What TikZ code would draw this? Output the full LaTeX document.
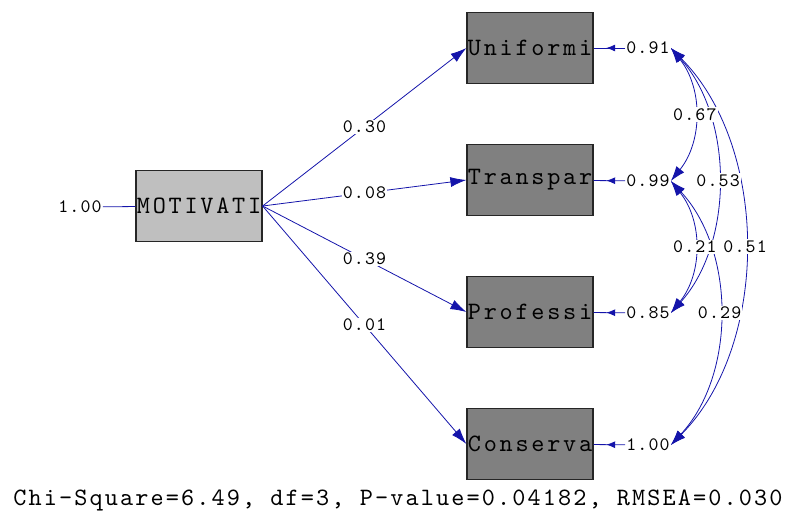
\documentclass[tikz,border=0pt]{standalone}
\usepackage{fontspec}
\newfontfamily\boxtt{lmmono10-regular.otf}[LetterSpace=11]
\newfontfamily\numtt{lmmono10-regular.otf}[LetterSpace=6]
\newfontfamily\fittt{lmmono10-regular.otf}[LetterSpace=8.5]
\usetikzlibrary{arrows.meta,decorations.markings}
\definecolor{pathblue}{RGB}{20,20,170}
\newcommand{\boxfont}{\boxtt\fontsize{25}{25}\selectfont}
\newcommand{\numfont}{\numtt\fontsize{19}{19}\selectfont}
\newcommand{\fitfont}{\fittt\fontsize{25}{25}\selectfont}
\begin{document}
\begin{tikzpicture}[x=1pt,y=-1pt,
  varbox/.style={draw=black!85, line width=1.2pt, minimum width=126pt, minimum height=71pt, inner sep=0pt, font=\boxfont},
  lat/.style={varbox, fill=black!25},
  obs/.style={varbox, fill=black!50},
  num/.style={fill=white, inner sep=1pt, font=\numfont, text=black},
  errlbl/.style={inner sep=1pt, font=\numfont},
  pathline/.style={draw=pathblue, line width=0.8pt, -{Latex[length=16pt,width=10pt]}},
  plainline/.style={draw=pathblue, line width=0.8pt},
  errline/.style={draw=pathblue, line width=0.8pt, postaction={decorate}, decoration={markings, mark=at position 0.6 with {\arrow{Latex[length=9pt,width=7pt]}}}},
  covline/.style={draw=pathblue, line width=0.8pt, {Latex[length=15pt,width=10pt]}-{Latex[length=15pt,width=10pt]}},
  fitstat/.style={inner sep=0pt, font=\fitfont}
]
\useasboundingbox (0,0) rectangle (787,515);

\node[lat] (mot) at (199,206) {MOTIVATI};
\node[obs] (uni) at (530,48) {Uniformi};
\node[obs] (tra) at (530,180) {Transpar};
\node[obs] (pro) at (530,312) {Professi};
\node[obs] (con) at (530,444) {Conserva};

\node[errlbl] (mv) at (80,207) {1.00};
\draw[plainline] (mv) -- (mot);

\node[errlbl] (e1) at (648,48) {0.91};
\node[errlbl] (e2) at (648,181) {0.99};
\node[errlbl] (e3) at (648,313) {0.85};
\node[errlbl] (e4) at (648,445) {1.00};

\draw[errline] (e1) -- (uni);
\draw[errline] (e2) -- (tra);
\draw[errline] (e3) -- (pro);
\draw[errline] (e4) -- (con);

\draw[pathline] (mot.east) -- node[num]{0.30} (uni.west);
\draw[pathline] (mot.east) -- node[num]{0.08} (tra.west);
\draw[pathline] (mot.east) -- node[num]{0.39} (pro.west);
\draw[pathline] (mot.east) -- node[num]{0.01} (con.west);

\draw[covline] (e1.east) .. controls +(99,100) and +(99,-100) .. node[num]{0.51} (e4.east);
\draw[covline] (e1.east) .. controls +(63,70) and +(63,-70) .. node[num]{0.53} (e3.east);
\draw[covline] (e2.east) .. controls +(65,70) and +(65,-70) .. node[num]{0.29} (e4.east);
\draw[covline] (e1.east) .. controls +(32,40) and +(32,-40) .. node[num]{0.67} (e2.east);
\draw[covline] (e2.east) .. controls +(32,40) and +(32,-40) .. node[num]{0.21} (e3.east);

\node[fitstat] (fit) at (398,500) {Chi-Square=6.49, df=3, P-value=0.04182, RMSEA=0.030};
\end{tikzpicture}
\end{document}
